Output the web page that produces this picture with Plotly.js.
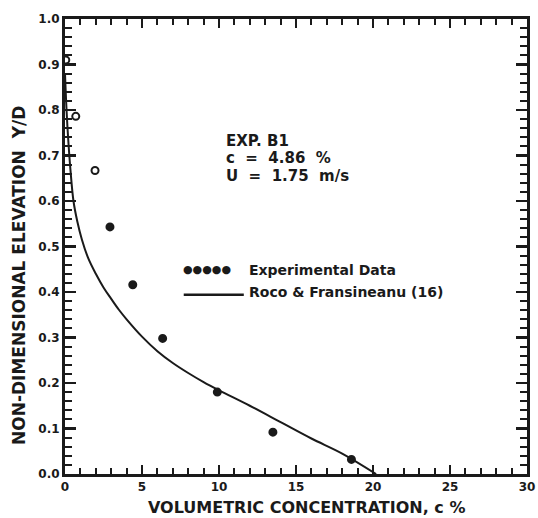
<!DOCTYPE html>
<html>
<head>
<meta charset="utf-8">
<script src="https://cdn.plot.ly/plotly-3.0.1.min.js"></script>
<style>html,body{margin:0;padding:0;background:#fff;}#chart{width:538px;height:518px;}</style>
</head>
<body>
<div id="chart"></div>
<script>
// Experimental data (volumetric concentration c %, elevation Y/D)
const expC = [0.05, 0.7, 1.95, 2.92, 4.4, 6.34, 9.89, 13.5, 18.6];
const expY = [0.91, 0.786, 0.667, 0.543, 0.416, 0.298, 0.180, 0.092, 0.032];
const expSymbols = ['circle-open', 'circle-open', 'circle-open', 'circle', 'circle', 'circle', 'circle', 'circle', 'circle'];

// Roco & Fransineanu (16) model curve
const modelC = [0, 0.1, 0.2, 0.35, 0.55, 0.8, 1.1, 1.5, 2.0, 2.5, 3.0, 3.5, 4.0, 5.0, 6.0, 7.0, 8.0, 9.0, 10.0, 12.0, 14.0, 16.0, 18.0, 20.2];
const modelY = [0.88, 0.80, 0.74, 0.67, 0.60, 0.555, 0.515, 0.475, 0.44, 0.41, 0.385, 0.361, 0.340, 0.302, 0.270, 0.244, 0.222, 0.202, 0.184, 0.150, 0.114, 0.078, 0.045, 0.0];

const xTickStep = 5;
const yTickStep = 0.1;

const FONT = 'DejaVu Sans, Verdana, sans-serif';
const INK = '#1a1a1a';

const traces = [
  {
    x: modelC, y: modelY, mode: 'lines', type: 'scatter',
    line: {color: INK, width: 2, shape: 'spline', smoothing: 1},
    hoverinfo: 'skip', showlegend: false
  },
  {
    x: expC, y: expY, mode: 'markers', type: 'scatter',
    marker: {color: INK, size: 7, symbol: expSymbols, line: {color: INK, width: 2}},
    showlegend: false
  }
];

const layout = {
  width: 538, height: 518,
  margin: {l: 65, r: 11, t: 19, b: 44},
  paper_bgcolor: '#fff', plot_bgcolor: '#fff',
  showlegend: false,
  xaxis: {
    range: [0, 30], dtick: xTickStep, ticks: 'inside', ticklen: 9, tickwidth: 2.5, tickcolor: INK,
    showline: true, linewidth: 3, linecolor: INK, mirror: 'allticks', showgrid: false, zeroline: false,
    tickfont: {family: FONT, size: 12, color: INK, weight: 'bold'},
    minor: {dtick: 1, ticks: 'inside', ticklen: 6, tickwidth: 2, tickcolor: INK}
  },
  yaxis: {
    range: [0, 1.0], dtick: yTickStep, tickformat: '.1f', ticks: 'inside', ticklen: 11, tickwidth: 2.5, tickcolor: INK,
    showline: true, linewidth: 3, linecolor: INK, mirror: 'allticks', showgrid: false, zeroline: false,
    tickfont: {family: FONT, size: 12, color: INK, weight: 'bold'},
    minor: {dtick: 0.02, ticks: 'inside', ticklen: 7, tickwidth: 2, tickcolor: INK}
  },
  annotations: [
    {xref: 'paper', yref: 'paper', x: 0.523, y: -0.074, xanchor: 'center', yanchor: 'middle', showarrow: false,
     text: 'VOLUMETRIC CONCENTRATION, c %', font: {family: FONT, size: 16, color: INK, weight: 'bold'}},
    {xref: 'paper', yref: 'paper', x: -0.1, y: 0.437, xanchor: 'center', yanchor: 'middle', showarrow: false, textangle: -90,
     text: 'NON-DIMENSIONAL ELEVATION  Y/D', font: {family: FONT, size: 17, color: INK, weight: 'bold'}},
    {xref: 'paper', yref: 'paper', x: 0.345, y: 0.732, xanchor: 'left', yanchor: 'middle', showarrow: false,
     text: 'EXP. B1', font: {family: FONT, size: 15, color: INK, weight: 'bold'}},
    {xref: 'paper', yref: 'paper', x: 0.345, y: 0.695, xanchor: 'left', yanchor: 'middle', showarrow: false,
     text: 'c  =  4.86  %', font: {family: FONT, size: 15, color: INK, weight: 'bold'}},
    {xref: 'paper', yref: 'paper', x: 0.345, y: 0.655, xanchor: 'left', yanchor: 'middle', showarrow: false,
     text: 'U  =  1.75  m/s', font: {family: FONT, size: 15, color: INK, weight: 'bold'}},
    {xref: 'paper', yref: 'paper', x: 0.25, y: 0.449, xanchor: 'left', yanchor: 'middle', showarrow: false,
     text: '●●●●●', font: {family: FONT, size: 11, color: INK, weight: 'bold'}},
    {xref: 'paper', yref: 'paper', x: 0.395, y: 0.449, xanchor: 'left', yanchor: 'middle', showarrow: false,
     text: 'Experimental Data', font: {family: FONT, size: 14, color: INK, weight: 'bold'}},
    {xref: 'paper', yref: 'paper', x: 0.395, y: 0.399, xanchor: 'left', yanchor: 'middle', showarrow: false,
     text: 'Roco & Fransineanu (16)', font: {family: FONT, size: 14, color: INK, weight: 'bold'}}
  ],
  shapes: [
    {type: 'line', xref: 'paper', yref: 'paper', x0: 0.257, x1: 0.387, y0: 0.394, y1: 0.394, line: {color: INK, width: 2.5}}
  ]
};

Plotly.newPlot('chart', traces, layout, {displayModeBar: false, staticPlot: true});
</script>
</body>
</html>
